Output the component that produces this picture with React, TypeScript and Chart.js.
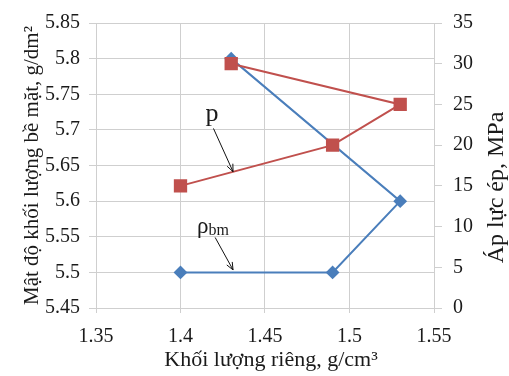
import React, { useEffect, useRef } from "react";
import { Chart, registerables } from "chart.js";

Chart.register(...registerables);

// ---- data ----
const densityX = [1.4, 1.49, 1.53, 1.43];
const surfaceDensity = [5.5, 5.5, 5.6, 5.8]; // g/dm2 (left axis)
const pressureX = [1.4, 1.49, 1.53, 1.43];
const pressure = [15, 20, 25, 30]; // MPa (right axis)

const xTicks = [1.35, 1.4, 1.45, 1.5, 1.55];
const leftTicks = [5.45, 5.5, 5.55, 5.6, 5.65, 5.7, 5.75, 5.8, 5.85];
const rightTicks = [0, 5, 10, 15, 20, 25, 30, 35];

const xTitle = "Khối lượng riêng, g/cm³";
const leftTitle = "Mật độ khối lượng bề mặt, g/dm²";
const rightTitle = "Áp lực ép, MPa";

// annotation positions in data space (x, left-axis y)
const pLabelAt = [1.4186, 5.712];
const pArrow = [1.4195, 5.702, 1.4311, 5.6413];
const rhoLabelAt = [1.4192, 5.555];
const rhoArrow = [1.4205, 5.549, 1.4311, 5.5035];

const FONT = "Liberation Serif, Times New Roman, serif";
const TEXT = "#1a1a1a";
const GRID = "#cfcfcf";
const BLUE = "#4A7EBB";
const RED = "#C0504D";

const annotationPlugin = {
  id: "annotations",
  afterDatasetsDraw(chart: any) {
    const { ctx, chartArea } = chart;
    const xs = chart.scales.x;
    const ys = chart.scales.y;
    const px = (v: number) => xs.getPixelForValue(v);
    const py = (v: number) => ys.getPixelForValue(v);

    const arrow = (a: number[]) => {
      const x0 = px(a[0]), y0 = py(a[1]), x1 = px(a[2]), y1 = py(a[3]);
      ctx.save();
      ctx.strokeStyle = "#111";
      ctx.lineWidth = 1;
      ctx.beginPath();
      ctx.moveTo(x0, y0);
      ctx.lineTo(x1, y1);
      const ang = Math.atan2(y1 - y0, x1 - x0);
      const h = 8;
      ctx.moveTo(x1, y1);
      ctx.lineTo(x1 - h * Math.cos(ang - 0.4), y1 - h * Math.sin(ang - 0.4));
      ctx.moveTo(x1, y1);
      ctx.lineTo(x1 - h * Math.cos(ang + 0.4), y1 - h * Math.sin(ang + 0.4));
      ctx.stroke();
      ctx.restore();
    };

    ctx.save();
    ctx.fillStyle = TEXT;
    ctx.textBaseline = "alphabetic";
    ctx.textAlign = "center";
    ctx.font = `26px ${FONT}`;
    ctx.fillText("p", px(pLabelAt[0]), py(pLabelAt[1]));
    // rho_bm
    const rx = px(rhoLabelAt[0]);
    const ry = py(rhoLabelAt[1]);
    ctx.textAlign = "left";
    ctx.font = `23px ${FONT}`;
    const rw = ctx.measureText("ρ").width;
    ctx.font = `16px ${FONT}`;
    const sw = ctx.measureText("bm").width;
    const start = rx - (rw + sw) / 2;
    ctx.font = `23px ${FONT}`;
    ctx.fillText("ρ", start, ry);
    ctx.font = `16px ${FONT}`;
    ctx.fillText("bm", start + rw, ry + 2);

    // axis titles
    const midY = (chartArea.top + chartArea.bottom) / 2;
    const midX = (chartArea.left + chartArea.right) / 2;
    ctx.textAlign = "center";
    ctx.font = `22px ${FONT}`;
    ctx.fillText(xTitle, midX + 6, chartArea.bottom + 58);

    ctx.save();
    ctx.font = `21px ${FONT}`;
    ctx.translate(chartArea.left - 58, midY);
    ctx.rotate(-Math.PI / 2);
    ctx.fillText(leftTitle, 0, 0);
    ctx.restore();

    ctx.save();
    ctx.font = `24px ${FONT}`;
    ctx.translate(chartArea.right + 69, midY + 22);
    ctx.rotate(-Math.PI / 2);
    ctx.fillText(rightTitle, 0, 0);
    ctx.restore();

    ctx.restore();

    arrow(pArrow);
    arrow(rhoArrow);
  },
};

export default function App() {
  const ref = useRef<HTMLCanvasElement>(null);

  useEffect(() => {
    if (!ref.current) return;
    const tickFont = { family: FONT, size: 20 };
    const chart = new Chart(ref.current, {
      type: "scatter",
      data: {
        datasets: [
          {
            label: "p",
            data: pressureX.map((x, i) => ({ x, y: pressure[i] })),
            yAxisID: "y1",
            showLine: true,
            borderColor: RED,
            backgroundColor: RED,
            borderWidth: 2,
            pointStyle: "rect",
            pointRadius: 8,
            pointHoverRadius: 8,
            order: 1,
          },
          {
            label: "ρbm",
            data: densityX.map((x, i) => ({ x, y: surfaceDensity[i] })),
            yAxisID: "y",
            showLine: true,
            borderColor: BLUE,
            backgroundColor: BLUE,
            borderWidth: 2,
            pointStyle: "rectRot",
            pointRadius: 5.5,
            pointHoverRadius: 5.5,
            order: 2,
          },
        ],
      },
      options: {
        animation: false,
        responsive: true,
        maintainAspectRatio: false,
        layout: { padding: { top: 13, left: 0, right: 0, bottom: 0 } },
        plugins: { legend: { display: false }, tooltip: { enabled: false } },
        scales: {
          x: {
            type: "linear",
            min: 1.35,
            max: 1.55,
            afterBuildTicks: (s: any) => {
              s.ticks = xTicks.map((v) => ({ value: v }));
            },
            afterFit: (s: any) => {
              s.height = 68;
            },
            ticks: {
              font: tickFont,
              color: TEXT,
              padding: 12,
              maxRotation: 0,
              callback: (v: any) => String(v),
            },
            grid: { color: GRID, tickLength: 5 },
            border: { color: GRID },
          },
          y: {
            type: "linear",
            position: "left",
            min: 5.45,
            max: 5.85,
            afterBuildTicks: (s: any) => {
              s.ticks = leftTicks.map((v) => ({ value: v }));
            },
            afterFit: (s: any) => {
              s.width = 96;
            },
            ticks: {
              font: tickFont,
              color: TEXT,
              padding: 9,
              callback: (v: any) => String(v),
            },
            grid: { color: GRID, tickLength: 7 },
            border: { color: GRID },
          },
          y1: {
            type: "linear",
            position: "right",
            min: 0,
            max: 35,
            afterBuildTicks: (s: any) => {
              s.ticks = rightTicks.map((v) => ({ value: v }));
            },
            afterFit: (s: any) => {
              s.width = 75;
            },
            ticks: {
              font: tickFont,
              color: TEXT,
              padding: 11,
              callback: (v: any) => String(v),
            },
            grid: { color: GRID, drawOnChartArea: false, tickLength: 8 },
            border: { color: GRID },
          },
        },
      },
      plugins: [annotationPlugin],
    } as any);
    return () => chart.destroy();
  }, []);

  return (
    <div
      style={{
        position: "absolute",
        left: 0,
        top: 0,
        width: 509,
        height: 376,
        background: "#fff",
      }}
    >
      <canvas ref={ref} />
    </div>
  );
}
